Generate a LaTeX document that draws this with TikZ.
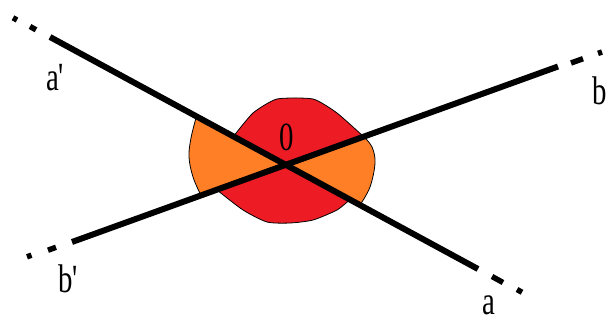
\documentclass[tikz,border=0pt]{standalone}
\usepackage{fontspec}
\newfontfamily\lblfont[FakeStretch=0.72]{Liberation Serif}
\definecolor{sred}{HTML}{ED1C24}
\definecolor{sorange}{HTML}{FF7F27}
\tikzset{
  mainline/.style={line width=6pt, line cap=butt},
  dashpiece/.style={line width=5.5pt, line cap=butt},
  sector/.style={draw=black, line width=0.8pt, line join=round},
  lbl/.style={font=\lblfont\fontsize{40}{48}\selectfont, inner sep=0pt, text depth=0pt, anchor=base west}
}
\begin{document}
\begin{tikzpicture}[x=1pt,y=-1pt]
\useasboundingbox (0,0) rectangle (609,323);
\coordinate (A1) at (50,37);
\coordinate (A2) at (478,269);
\coordinate (B1) at (72,242);
\coordinate (B2) at (558,66.5);
\coordinate (O) at (intersection of A1--A2 and B1--B2);
% sectors
\filldraw[sector, fill=sorange] (O) -- plot[smooth, tension=0.6] coordinates {(196,118) (191,138) (189,157) (193,177) (201,195.5)} -- cycle;
\filldraw[sector, fill=sred] (O) -- plot[smooth, tension=0.35] coordinates {(233,137) (253,113) (277,99) (313,99) (337,113) (364,137)} -- cycle;
\filldraw[sector, fill=sorange] (O) -- plot[smooth, tension=0.6] coordinates {(364,137) (372,147) (375,163) (370,187) (360,205)} -- cycle;
\filldraw[sector, fill=sred] (O) -- plot[smooth, tension=0.4] coordinates {(350,199.5) (337,210) (313,220) (290,223) (267,222) (243,210) (217,190)} -- cycle;
% main lines
\draw[mainline] (A1) -- (A2);
\draw[mainline] (B1) -- (B2);
% dashed ends
\coordinate (a1d1) at (30,26.5); \coordinate (a1d2) at (36,29.8);
\coordinate (a1p1) at (13,17.8); \coordinate (a1p2) at (17,20);
\draw[dashpiece] (a1d1) -- (a1d2);
\draw[dashpiece] (a1p1) -- (a1p2);
\coordinate (a2d1) at (492,276.5); \coordinate (a2d2) at (503,282.5);
\coordinate (a2p1) at (517,289.5); \coordinate (a2p2) at (522,292.3);
\draw[dashpiece] (a2d1) -- (a2d2);
\draw[dashpiece] (a2p1) -- (a2p2);
\coordinate (b2d1) at (571,63); \coordinate (b2d2) at (583,58.7);
\coordinate (b2p1) at (598,53.4); \coordinate (b2p2) at (602,52);
\draw[dashpiece] (b2d1) -- (b2d2);
\draw[dashpiece] (b2p1) -- (b2p2);
\coordinate (b1d1) at (48,250.2); \coordinate (b1d2) at (56,247.3);
\coordinate (b1p1) at (27,256.8); \coordinate (b1p2) at (31.5,255.2);
\draw[dashpiece] (b1d1) -- (b1d2);
\draw[dashpiece] (b1p1) -- (b1p2);
% labels
\node[lbl] (la1) at (46,91) {a\textquotesingle};
\node[lbl] (la2) at (482,314) {a};
\node[lbl] (lb2) at (592,105) {b};
\node[lbl] (lb1) at (58,292) {b\textquotesingle};
\node[lbl, anchor=base] (lo) at (286.5,150) {0};
\end{tikzpicture}
\end{document}
